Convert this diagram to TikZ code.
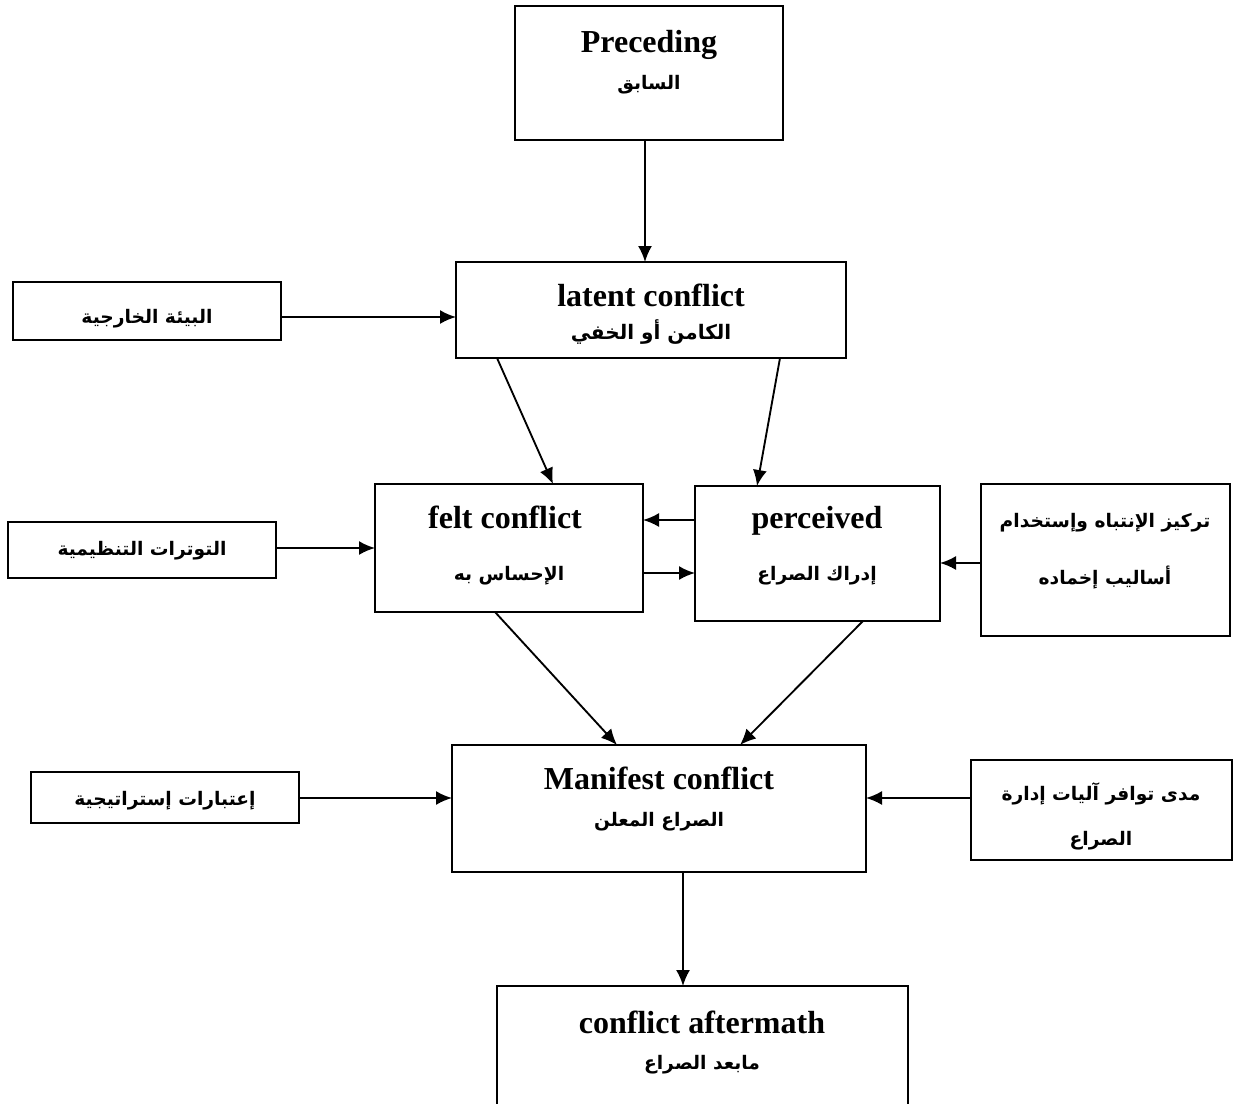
\documentclass[tikz,border=0pt]{standalone}
\usepackage{fontspec}
\setmainfont{Liberation Serif}
\usetikzlibrary{arrows.meta}
\newfontfamily\arabicfont[Script=Arabic]{DejaVu Sans}
\TeXXeTstate=1
\newcommand\artxt[1]{{\arabicfont\bfseries\beginR #1\endR}}
\tikzset{
  box/.style={draw, line width=1.3pt, inner sep=0pt, outer sep=0pt},
  arr/.style={-{Latex[length=12pt,width=10.5pt]}, line width=1.4pt},
  en/.style={anchor=base, inner sep=0pt, font=\bfseries\fontsize{24}{28}\selectfont},
  ar/.style={anchor=base, inner sep=0pt, font=\fontsize{14}{17}\selectfont},
}
\begin{document}
\begin{tikzpicture}[x=0.75pt,y=-0.75pt]
\useasboundingbox (0,0) rectangle (1233,1104);
% boxes
\node[box, minimum width=201pt, minimum height=100.5pt] (pre) at (649,73) {};
\node[box, minimum width=292.5pt, minimum height=72pt] (lat) at (651,310) {};
\node[box, minimum width=201pt, minimum height=43.5pt] (ext) at (147,311) {};
\node[box, minimum width=201pt, minimum height=96pt] (felt) at (509,548) {};
\node[box, minimum width=183.75pt, minimum height=101.25pt] (perc) at (817.5,553.5) {};
\node[box, minimum width=201pt, minimum height=42pt] (tens) at (142,550) {};
\node[box, minimum width=186.75pt, minimum height=114pt] (focus) at (1105.5,560) {};
\node[box, minimum width=310.5pt, minimum height=95.25pt] (man) at (659,808.5) {};
\node[box, minimum width=201pt, minimum height=38.25pt] (strat) at (165,797.5) {};
\node[box, minimum width=195.75pt, minimum height=75pt] (avail) at (1101.5,810) {};
\node[box, minimum width=308.25pt, minimum height=93pt] (after) at (702.5,1048) {};
% texts
\node[en] (preE) at (649,52) {Preceding};
\node[ar] (preA) at (649,89) {\artxt{السابق}};
\node[en] (latE) at (651,306) {latent conflict};
\node[ar, font=\fontsize{15}{18}\selectfont] (latA) at (651,339) {\artxt{الكامن أو الخفي}};
\node[ar] (extA) at (147,323) {\artxt{البيئة الخارجية}};
\node[en] (feltE) at (505,528) {felt conflict};
\node[ar] (feltA) at (509,580) {\artxt{الإحساس به}};
\node[en] (percE) at (817,528) {perceived};
\node[ar] (percA) at (817,580) {\artxt{إدراك الصراع}};
\node[ar] (tensA) at (142,555) {\artxt{التوترات التنظيمية}};
\node[ar] (focA) at (1105,527) {\artxt{تركيز الإنتباه وإستخدام}};
\node[ar] (focB) at (1105,584) {\artxt{أساليب إخماده}};
\node[en] (manE) at (659,789) {Manifest conflict};
\node[ar] (manA) at (659,826) {\artxt{الصراع المعلن}};
\node[ar] (stratA) at (165,805) {\artxt{إعتبارات إستراتيجية}};
\node[ar] (avA) at (1101,800) {\artxt{مدى توافر آليات إدارة}};
\node[ar] (avB) at (1101,845) {\artxt{الصراع}};
\node[en] (aftE) at (702,1033) {conflict aftermath};
\node[ar] (aftA) at (702,1069) {\artxt{مابعد الصراع}};
% arrows
\draw[arr] (645,0 |- pre.south) -- (645,0 |- lat.north);
\draw[arr] (ext.east |- 0,317) -- (lat.west |- 0,317);
\draw[arr] (497,0 |- lat.south) -- (553,0 |- felt.north);
\draw[arr] (780,0 |- lat.south) -- (757,0 |- perc.north);
\draw[arr] (perc.west |- 0,520) -- (felt.east |- 0,520);
\draw[arr] (felt.east |- 0,573) -- (perc.west |- 0,573);
\draw[arr] (tens.east |- 0,548) -- (felt.west |- 0,548);
\draw[arr] (focus.west |- 0,563) -- (perc.east |- 0,563);
\draw[arr] (495,0 |- felt.south) -- (617,0 |- man.north);
\draw[arr] (863,0 |- perc.south) -- (740,0 |- man.north);
\draw[arr] (strat.east |- 0,798) -- (man.west |- 0,798);
\draw[arr] (avail.west |- 0,798) -- (man.east |- 0,798);
\draw[arr] (683,0 |- man.south) -- (683,0 |- after.north);
\end{tikzpicture}
\end{document}
